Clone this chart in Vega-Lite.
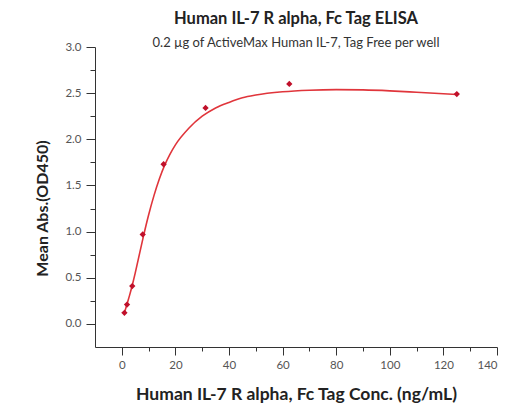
{
  "$schema": "https://vega.github.io/schema/vega-lite/v6.json",
  "width": 402,
  "height": 300,
  "autosize": {"type": "none"},
  "padding": {"left": 95, "top": 47, "right": 20, "bottom": 65},
  "background": "#ffffff",
  "title": {
    "text": "Human IL-7 R alpha, Fc Tag ELISA",
    "subtitle": "0.2 µg of ActiveMax Human IL-7, Tag Free per well",
    "font": "Lato",
    "fontSize": 16.5,
    "fontWeight": "bold",
    "color": "#222222",
    "subtitleFont": "Lato",
    "subtitleFontSize": 13,
    "subtitleColor": "#333333",
    "subtitlePadding": 10,
    "anchor": "middle",
    "offset": -9
  },
  "config": {
    "view": {"stroke": null},
    "axis": {
      "grid": false,
      "domainColor": "#333333",
      "tickColor": "#333333",
      "labelColor": "#555555",
      "labelFont": "Lato",
      "labelFontSize": 11.5,
      "titleFont": "Lato",
      "titleFontSize": 17.5,
      "titleFontWeight": "bold",
      "titleColor": "#222222"
    }
  },
  "datasets": {
    "points": [
      {"conc": 0.98, "od": 0.12},
      {"conc": 1.95, "od": 0.21},
      {"conc": 3.9, "od": 0.41},
      {"conc": 7.8, "od": 0.97},
      {"conc": 15.6, "od": 1.73},
      {"conc": 31.25, "od": 2.34},
      {"conc": 62.5, "od": 2.6},
      {"conc": 125, "od": 2.49}
    ],
    "curve": [
      {"conc": 0.98, "od": 0.12},
      {"conc": 2, "od": 0.22},
      {"conc": 3, "od": 0.32},
      {"conc": 4, "od": 0.43},
      {"conc": 5, "od": 0.55},
      {"conc": 6, "od": 0.68},
      {"conc": 8, "od": 0.94},
      {"conc": 10, "od": 1.18},
      {"conc": 12, "od": 1.39},
      {"conc": 14, "od": 1.57},
      {"conc": 16, "od": 1.72},
      {"conc": 18, "od": 1.84},
      {"conc": 20, "od": 1.94},
      {"conc": 25, "od": 2.12},
      {"conc": 30, "od": 2.25},
      {"conc": 35, "od": 2.34},
      {"conc": 40, "od": 2.4},
      {"conc": 45, "od": 2.45},
      {"conc": 50, "od": 2.48},
      {"conc": 60, "od": 2.515},
      {"conc": 70, "od": 2.532},
      {"conc": 80, "od": 2.538},
      {"conc": 90, "od": 2.535},
      {"conc": 100, "od": 2.525},
      {"conc": 110, "od": 2.51},
      {"conc": 125, "od": 2.485}
    ]
  },
  "encoding": {
    "x": {
      "field": "conc",
      "type": "quantitative",
      "scale": {"domain": [-10, 140], "nice": false, "zero": false},
      "axis": {
        "title": "Human IL-7 R alpha, Fc Tag Conc. (ng/mL)",
        "values": [0, 10, 20, 30, 40, 50, 60, 70, 80, 90, 100, 110, 120, 130, 140],
        "labelExpr": "datum.value % 20 === 0 ? datum.label : ''",
        "tickSize": {"condition": {"test": "datum.value % 20 === 0", "value": 8}, "value": 4},
        "labelPadding": 4,
        "titlePadding": 15
      }
    },
    "y": {
      "field": "od",
      "type": "quantitative",
      "scale": {"domain": [-0.25, 3.0], "nice": false, "zero": false},
      "axis": {
        "title": "Mean Abs.(OD450)",
        "titleFontSize": 16,
        "titleY": 161,
        "values": [0, 0.25, 0.5, 0.75, 1, 1.25, 1.5, 1.75, 2, 2.25, 2.5, 2.75, 3],
        "format": ".1f",
        "labelExpr": "abs(datum.value * 2 - round(datum.value * 2)) < 0.01 ? datum.label : ''",
        "tickSize": {"condition": {"test": "abs(datum.value * 2 - round(datum.value * 2)) < 0.01", "value": 9}, "value": 5},
        "labelPadding": 5,
        "titlePadding": 14
      }
    }
  },
  "layer": [
    {
      "data": {"name": "curve"},
      "mark": {"type": "line", "color": "#e0353b", "strokeWidth": 1.6, "interpolate": "monotone"}
    },
    {
      "data": {"name": "points"},
      "mark": {"type": "point", "shape": "diamond", "filled": true, "color": "#c0102a", "size": 40, "opacity": 1}
    }
  ]
}
